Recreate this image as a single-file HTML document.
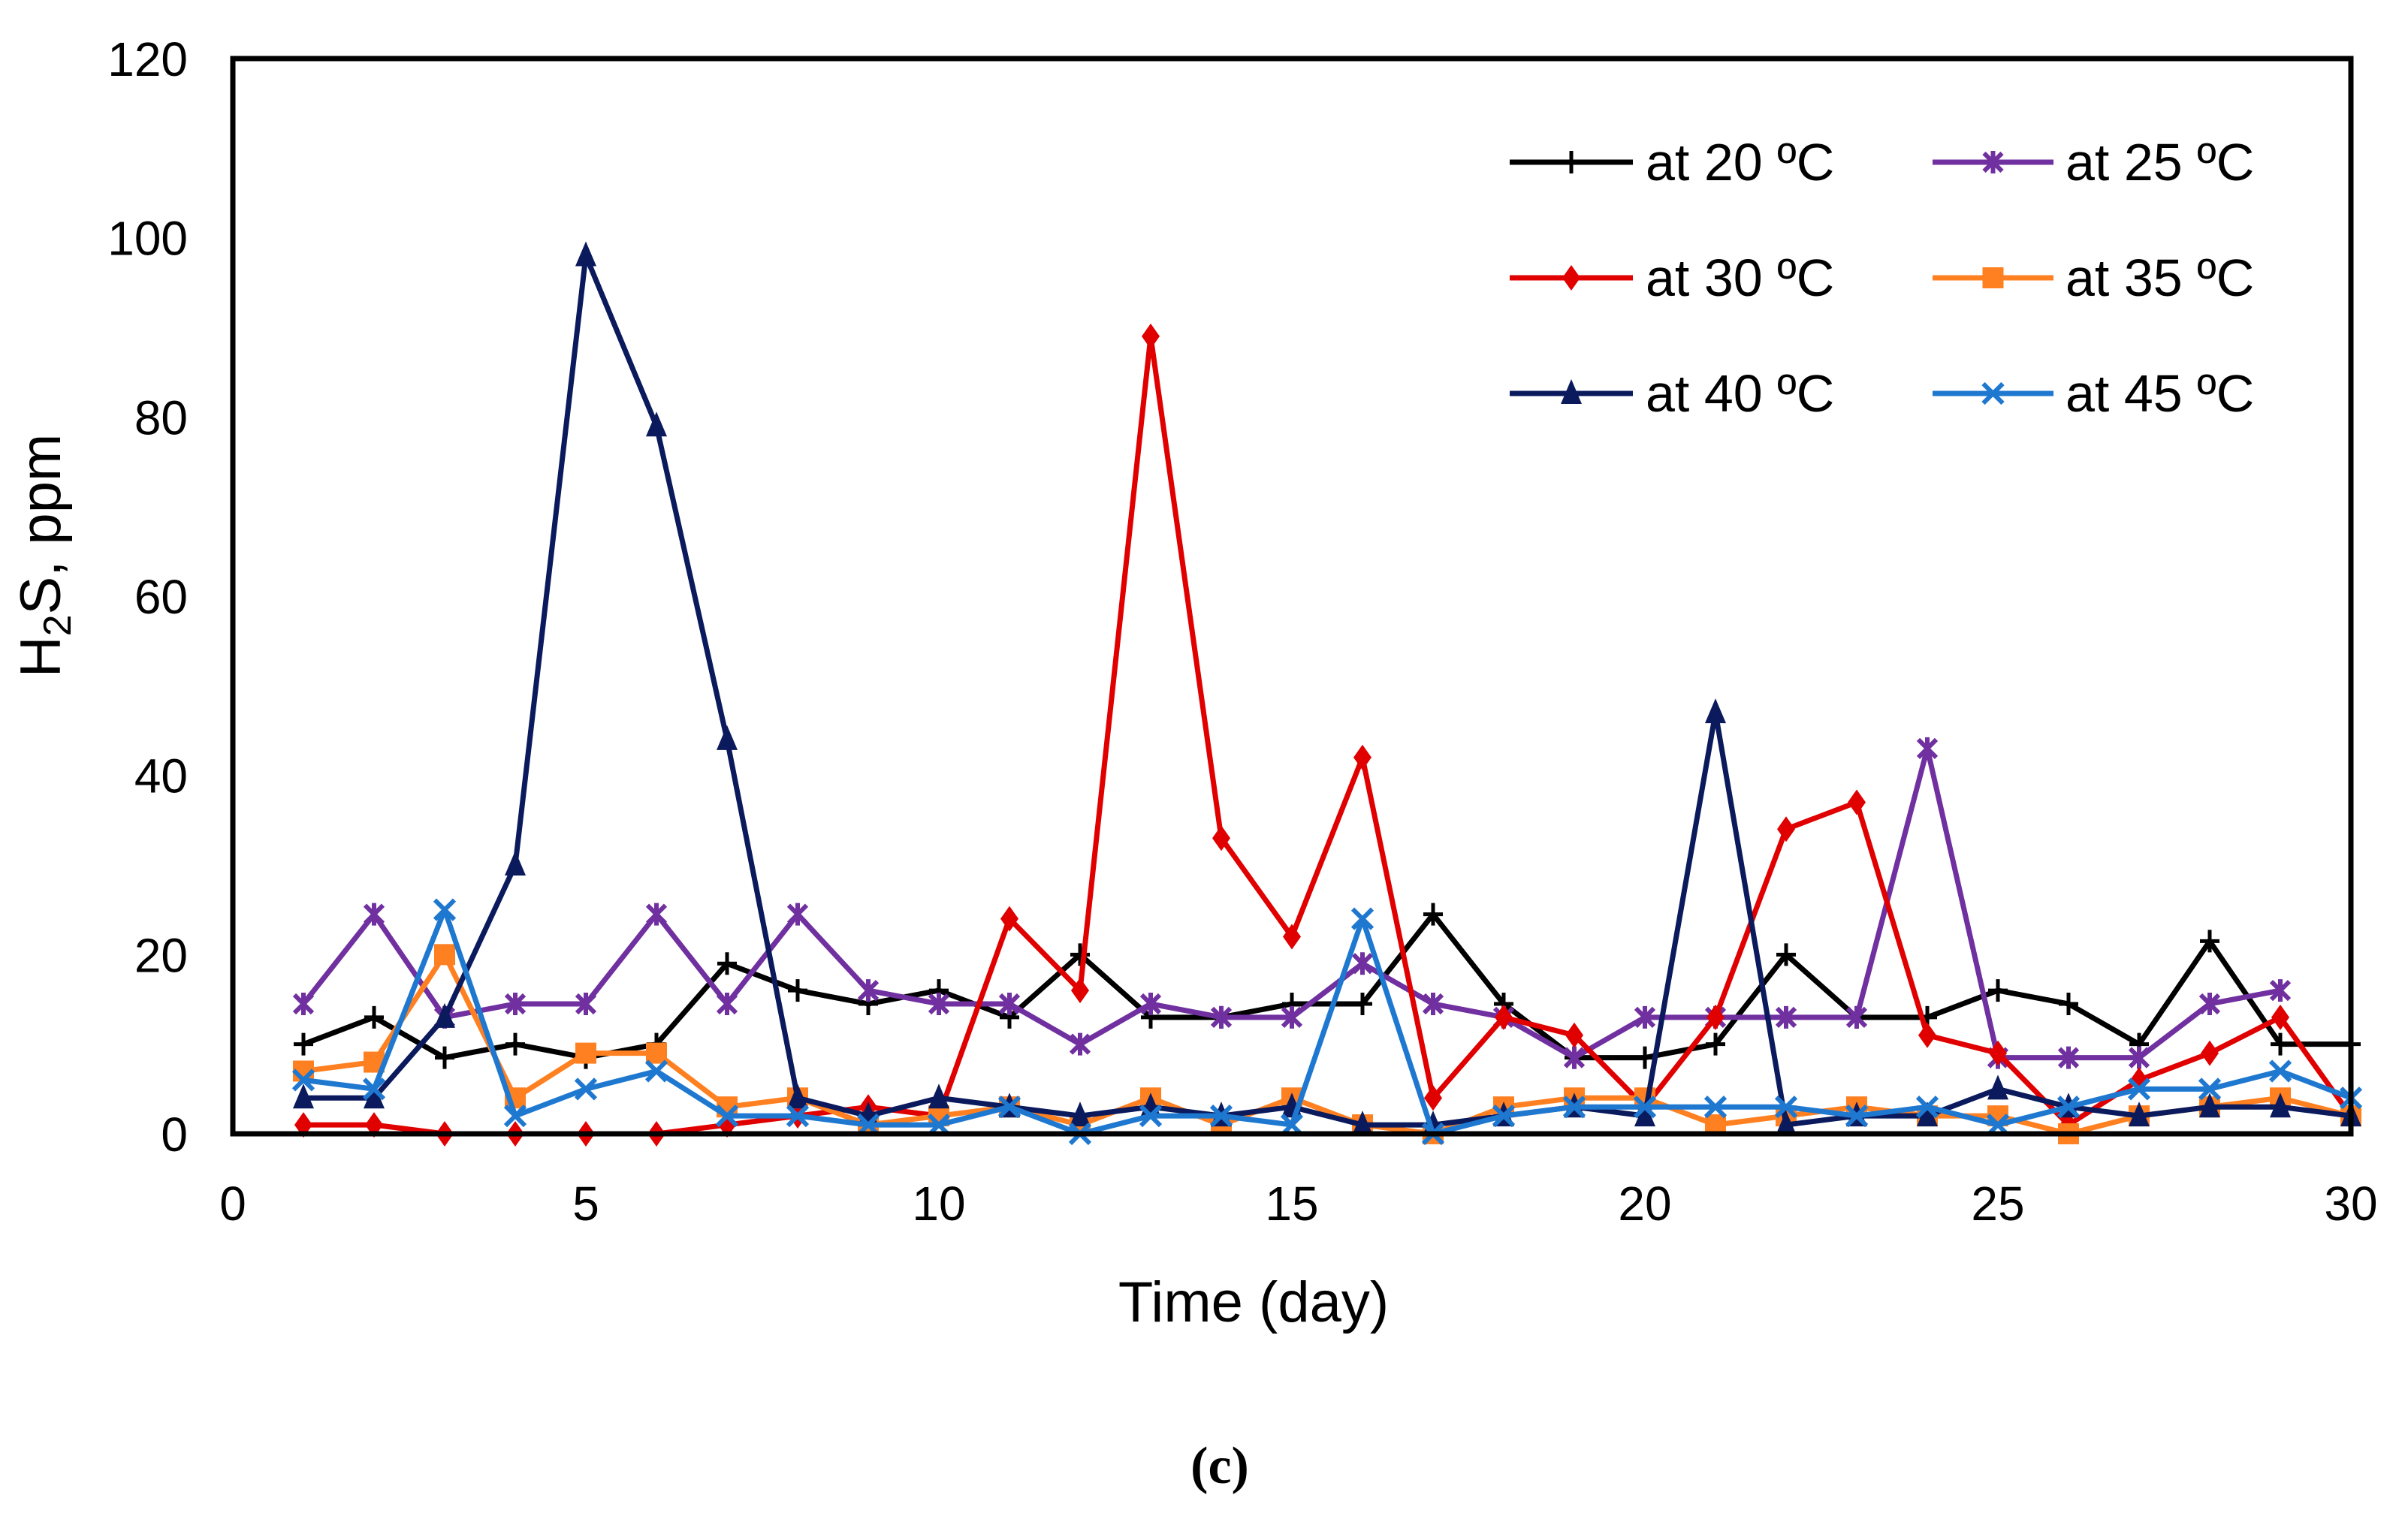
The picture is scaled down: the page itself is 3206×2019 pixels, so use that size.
<!DOCTYPE html>
<html><head><meta charset="utf-8"><style>
html,body{margin:0;padding:0;background:#fff;}
svg{display:block;font-family:"Liberation Sans",Arial,sans-serif;}
</style></head><body>
<svg id="chart" width="3206" height="2019" viewBox="0 0 3206 2019" xmlns="http://www.w3.org/2000/svg">
<g id="series"></g>
<rect x="310" y="78" width="2820" height="1432" fill="none" stroke="#000" stroke-width="7"/>
<g id="ticks"></g>
<text x="80" y="740" font-size="76" text-anchor="middle" transform="rotate(-90 80 740)">H<tspan font-size="52" dy="14">2</tspan><tspan dy="-14">S, ppm</tspan></text>
<text x="1669" y="1760" font-size="76" text-anchor="middle">Time (day)</text>
<text x="1624" y="1975" font-size="70" font-weight="bold" text-anchor="middle" font-family="Liberation Serif,serif">(c)</text>
<g id="legend"></g>
</svg>
<script>
const days = [1,2,3,4,5,6,7,8,9,10,11,12,13,14,15,16,17,18,19,20,21,22,23,24,25,26,27,28,29,30];
const s20 = [10,13,8.5,10,8.5,10,19,16,14.5,16,13,20,13,13,14.5,14.5,24.5,14.5,8.5,8.5,10,20,13,13,16,14.5,10,21.5,10,10];
const s25 = [14.5,24.5,13,14.5,14.5,24.5,14.5,24.5,16,14.5,14.5,10,14.5,13,13,19,14.5,13,8.5,13,13,13,13,43,8.5,8.5,8.5,14.5,16];
const s30 = [1,1,0,0,0,0,1,2,3,2,24,16,89,33,22,42,4,13,11,3,13,34,37,11,9,1,6,9,13,2];
const s35 = [7,8,20,4,9,9,3,4,1,2,3,1,4,1,4,1,0,3,4,4,1,2,3,2,2,0,2,3,4,2];
const s40 = [4,4,13,30,98,79,44,4,2,4,3,2,3,2,3,1,1,2,3,2,47,1,2,2,5,3,2,3,3,2];
const s45 = [6,5,25,2,5,7,2,2,1,1,3,0,2,2,1,24,0,2,3,3,3,3,2,3,1,3,5,5,7,4];
const xTicks = [0,5,10,15,20,25,30];
const yTicks = [0,20,40,60,80,100,120];
const seriesNames = ["at 20 ºC","at  25 ºC","at 30 ºC","at 35 ºC","at 40 ºC","at 45 ºC"];

const NS="http://www.w3.org/2000/svg";
const L=310,R=3130,T=78,B=1510;
const xs=v=>L+(v-0)/30*(R-L);
const ys=v=>B-(v-0)/120*(B-T);
function mk(tag,attrs,parent){const e=document.createElementNS(NS,tag);for(const k in attrs)e.setAttribute(k,attrs[k]);parent.appendChild(e);return e;}
const ticks=document.getElementById('ticks');
xTicks.forEach(t=>{const e=mk('text',{x:xs(t),y:1625,'font-size':64,'text-anchor':'middle'},ticks);e.textContent=t;

});
yTicks.forEach(t=>{const e=mk('text',{x:250,y:ys(t)+23,'font-size':64,'text-anchor':'end'},ticks);e.textContent=t;

});

function marker(type,x,y,color,g){
  let e;
  if(type==='plus'){e=mk('path',{d:`M${x-13},${y}H${x+13}M${x},${y-15}V${y+15}`,stroke:color,'stroke-width':5,fill:'none'},g);}
  else if(type==='star'){e=mk('path',{d:`M${x-12},${y-12}L${x+12},${y+12}M${x-12},${y+12}L${x+12},${y-12}M${x},${y-15}V${y+15}`,stroke:color,'stroke-width':6,fill:'none'},g);}
  else if(type==='diamond'){e=mk('path',{d:`M${x},${y-17}L${x+12},${y}L${x},${y+17}L${x-12},${y}Z`,fill:color},g);}
  else if(type==='square'){e=mk('rect',{x:x-14,y:y-14,width:28,height:28,fill:color},g);}
  else if(type==='tri'){e=mk('path',{d:`M${x},${y-19}L${x+14},${y+14}L${x-14},${y+14}Z`,fill:color},g);}
  else {e=mk('path',{d:`M${x-13},${y-13}L${x+13},${y+13}M${x-13},${y+13}L${x+13},${y-13}`,stroke:color,'stroke-width':6,fill:'none'},g);}
  return e;
}
const defs=[[s20,'#000','plus'],[s25,'#7030a0','star'],[s30,'#e00000','diamond'],[s35,'#ff8020','square'],[s40,'#0a1a5c','tri'],[s45,'#1f78d0','x']];
const sg=document.getElementById('series');
defs.forEach((d,i)=>{
  const g=mk('g',{},sg);
  
  
  const pts=d[0].map((v,j)=>xs(days[j])+','+ys(v)).join(' ');
  const pl=mk('polyline',{points:pts,fill:'none',stroke:d[1],'stroke-width':7,'stroke-linejoin':'round'},g);
  
  
  d[0].forEach((v,j)=>{const m=marker(d[2],xs(days[j]),ys(v),d[1],g);
    
    });
});
const lg=document.getElementById('legend');
seriesNames.forEach((n,i)=>{
  const col=i%2,row=Math.floor(i/2);
  const x0=col?2573:2010,x1=col?2734:2174,tx=col?2750:2191,y=216+row*154;
  const g=mk('g',{},lg);
  
  
  mk('line',{x1:x0,y1:y,x2:x1,y2:y,stroke:defs[i][1],'stroke-width':7},g);
  marker(defs[i][2],(x0+x1)/2,y,defs[i][1],g);
  const t=mk('text',{x:tx,y:y+24,'font-size':70,'xml:space':'preserve'},g);t.textContent=n;
});
</script>
</body></html>
